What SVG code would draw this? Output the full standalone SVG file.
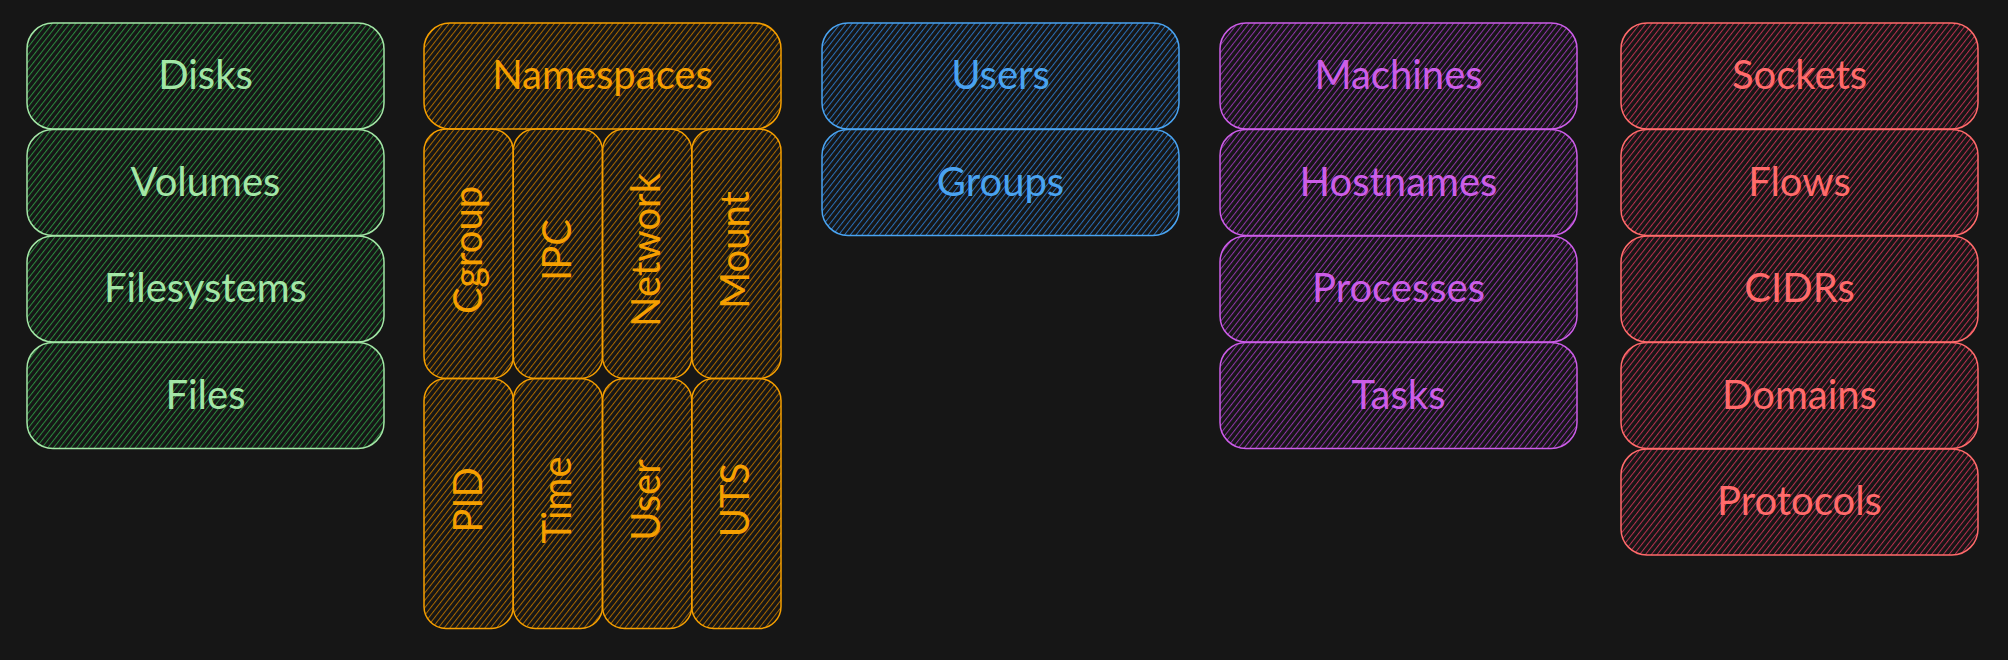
<svg xmlns="http://www.w3.org/2000/svg" width="2008" height="660" viewBox="0 0 2008 660">
<defs>
<pattern id="hg" width="4.6" height="4.6" patternUnits="userSpaceOnUse" patternTransform="rotate(38)"><line x1="0.5" y1="0" x2="0.5" y2="4.6" stroke="#2b8a3e" stroke-width="1"/></pattern>
<pattern id="ho" width="4.6" height="4.6" patternUnits="userSpaceOnUse" patternTransform="rotate(38)"><line x1="0.5" y1="0" x2="0.5" y2="4.6" stroke="#a86800" stroke-width="1"/></pattern>
<pattern id="hb" width="4.6" height="4.6" patternUnits="userSpaceOnUse" patternTransform="rotate(38)"><line x1="0.5" y1="0" x2="0.5" y2="4.6" stroke="#2a6fb8" stroke-width="1"/></pattern>
<pattern id="hp" width="4.6" height="4.6" patternUnits="userSpaceOnUse" patternTransform="rotate(38)"><line x1="0.5" y1="0" x2="0.5" y2="4.6" stroke="#8f34a8" stroke-width="1"/></pattern>
<pattern id="hr" width="4.6" height="4.6" patternUnits="userSpaceOnUse" patternTransform="rotate(38)"><line x1="0.5" y1="0" x2="0.5" y2="4.6" stroke="#b8304f" stroke-width="1"/></pattern>
</defs>
<style>
rect { stroke-width: 1.5; }
text { font-family: Lato, "Noto Sans", "Liberation Sans", sans-serif; font-size: 40px; text-anchor: middle; }
.g rect { fill: url(#hg); stroke: #a3e6a6; } .g text { fill: #a3e6a6; }
.o rect { fill: url(#ho); stroke: #f59f00; } .o text { fill: #f59f00; }
.b rect { fill: url(#hb); stroke: #4aa3f0; } .b text { fill: #4aa3f0; }
.p rect { fill: url(#hp); stroke: #cc5de8; } .p text { fill: #cc5de8; }
.r rect { fill: url(#hr); stroke: #ff6b6b; } .r text { fill: #ff6b6b; }
</style>
<rect width="2008" height="660" fill="#161616"/>

<g class="g">
<g id="disks"><rect x="27" y="23" width="357" height="106" rx="26"/><text x="205.5" y="89">Disks</text></g>
<g id="volumes"><rect x="27" y="129.5" width="357" height="106" rx="26"/><text x="205.5" y="195.5">Volumes</text></g>
<g id="filesystems"><rect x="27" y="236" width="357" height="106" rx="26"/><text x="205.5" y="302">Filesystems</text></g>
<g id="files"><rect x="27" y="342.5" width="357" height="106" rx="26"/><text x="205.5" y="408.5">Files</text></g>
</g>

<g class="o">
<g id="namespaces"><rect x="424" y="23" width="357" height="106" rx="26"/><text x="602.5" y="89">Namespaces</text></g>
<g id="cgroup"><rect x="424" y="129" width="89.25" height="249.5" rx="22"/><text transform="translate(481.5,250) rotate(-90)">Cgroup</text></g>
<g id="ipc"><rect x="513.25" y="129" width="89.25" height="249.5" rx="22"/><text transform="translate(570.5,250) rotate(-90)">IPC</text></g>
<g id="network"><rect x="602.5" y="129" width="89.25" height="249.5" rx="22"/><text transform="translate(659.5,250) rotate(-90)">Network</text></g>
<g id="mount"><rect x="691.75" y="129" width="89.25" height="249.5" rx="22"/><text transform="translate(749,250) rotate(-90)">Mount</text></g>
<g id="pid"><rect x="424" y="378.5" width="89.25" height="250" rx="22"/><text transform="translate(481.5,500) rotate(-90)">PID</text></g>
<g id="time"><rect x="513.25" y="378.5" width="89.25" height="250" rx="22"/><text transform="translate(570.5,500) rotate(-90)">Time</text></g>
<g id="user"><rect x="602.5" y="378.5" width="89.25" height="250" rx="22"/><text transform="translate(659.5,500) rotate(-90)">User</text></g>
<g id="uts"><rect x="691.75" y="378.5" width="89.25" height="250" rx="22"/><text transform="translate(749,500) rotate(-90)">UTS</text></g>
</g>

<g class="b">
<g id="users"><rect x="822" y="23" width="357" height="106" rx="26"/><text x="1000.5" y="89">Users</text></g>
<g id="groups"><rect x="822" y="129.5" width="357" height="106" rx="26"/><text x="1000.5" y="195.5">Groups</text></g>
</g>

<g class="p">
<g id="machines"><rect x="1220" y="23" width="357" height="106" rx="26"/><text x="1398.5" y="89">Machines</text></g>
<g id="hostnames"><rect x="1220" y="129.5" width="357" height="106" rx="26"/><text x="1398.5" y="195.5">Hostnames</text></g>
<g id="processes"><rect x="1220" y="236" width="357" height="106" rx="26"/><text x="1398.5" y="302">Processes</text></g>
<g id="tasks"><rect x="1220" y="342.5" width="357" height="106" rx="26"/><text x="1398.5" y="408.5">Tasks</text></g>
</g>

<g class="r">
<g id="sockets"><rect x="1621" y="23" width="357" height="106" rx="26"/><text x="1799.5" y="89">Sockets</text></g>
<g id="flows"><rect x="1621" y="129.5" width="357" height="106" rx="26"/><text x="1799.5" y="195.5">Flows</text></g>
<g id="cidrs"><rect x="1621" y="236" width="357" height="106" rx="26"/><text x="1799.5" y="302">CIDRs</text></g>
<g id="domains"><rect x="1621" y="342.5" width="357" height="106" rx="26"/><text x="1799.5" y="408.5">Domains</text></g>
<g id="protocols"><rect x="1621" y="449" width="357" height="106" rx="26"/><text x="1799.5" y="515">Protocols</text></g>
</g>

<g id="connectors"/>
</svg>
